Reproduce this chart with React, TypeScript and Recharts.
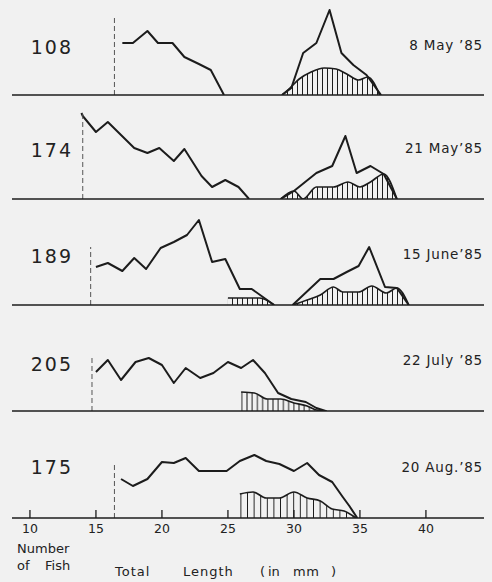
import React from 'react';
import { ComposedChart, Line, Area, XAxis, YAxis } from 'recharts';

// ---------- data (total length in mm, relative number of fish) ----------
const X_DOMAIN: [number, number] = [8.64, 44.4];
const xTicks = [10, 15, 20, 25, 30, 35, 40];

const sampleSizes = ['108', '174', '189', '205', '175'];
const sampleDates = ['8 May \u201985', '21 May\u201985', '15 June\u201985', '22 July \u201985', '20 Aug.\u201985'];
const minLengthMarks = [16.4, 14, 14.6, 14.7, 16.4];
const minLengthMarkHeights = [79, 87, 58, 56, 55];

type P = [number, number][];

// 8 May '85
const may8Main: P = [[17, 52], [17.8, 52], [18.9, 64], [19.7, 52], [20.8, 52], [21.7, 38], [22.8, 31], [23.7, 25], [24.7, 0]];
const may8Outer: P = [[29.1, 0], [29.8, 7], [30.7, 42], [31.7, 52], [32.7, 85], [33.6, 42], [34.5, 30], [35.5, 20], [36.6, 0]];
const may8Hatch: P = [[29.1, 0], [29.7, 7], [30.4, 16], [31.3, 23], [32.3, 27], [33.2, 26], [34, 21], [34.9, 15], [35.6, 18], [36.5, 0]];

// 21 May '85
const may21Main: P = [[13.9, 86], [14, 83], [15, 67], [15.9, 77], [16.9, 64], [17.9, 51], [18.9, 46], [19.8, 51], [20.9, 38], [21.7, 50], [23, 23], [23.8, 12], [24.8, 19], [25.8, 12], [26.6, 0]];
const may21Outer: P = [[29, 0], [30, 8], [31.7, 26], [32.9, 33], [33.9, 63], [34.75, 26], [35.8, 33], [36.8, 25], [37.8, 0]];
const may21Hatch: P = [[29, 0], [30, 8], [30.7, 0], [31.7, 12], [33, 12], [34.1, 17], [35, 12], [35.8, 17], [36.8, 25], [37.8, 0]];

// 15 June '85
const jun15Main: P = [[15, 38], [15.9, 42], [17, 34], [17.9, 47], [18.8, 36], [19.9, 57], [20.9, 63], [21.9, 70], [22.8, 85], [23.8, 43], [24.8, 46], [25.9, 16], [26.8, 16], [28.5, 0]];
const jun15LeftHatch: P = [[25, 7], [27.4, 7], [28.5, 0]];
const jun15Outer: P = [[29.9, 0], [32, 26], [33, 26], [34, 33], [34.9, 39], [35.7, 58], [36.9, 18], [37.8, 17], [38.7, 0]];
const jun15Hatch: P = [[29.9, 0], [31, 5], [32, 10], [33, 18], [33.7, 13], [34.9, 13], [35.9, 19], [37, 12], [37.8, 17], [38.7, 0]];

// 22 July '85
const jul22Main: P = [[15, 39], [15.9, 51], [16.9, 31], [18, 49], [19, 53], [20, 46], [20.9, 28], [21.8, 43], [22.9, 33], [23.9, 38], [25, 49], [26, 43], [26.9, 51], [27.8, 38], [28.8, 18], [29.8, 12], [30.9, 9], [31.7, 3], [32.4, 0]];
const jul22Hatch: P = [[26, 19], [27, 18], [28, 12], [29, 12], [30, 8], [31, 5], [31.7, 1], [32.5, 0]];

// 20 Aug '85
const aug20Main: P = [[16.9, 39], [17.8, 32], [18.9, 39], [20, 56], [20.9, 55], [21.8, 60], [22.8, 47], [23.9, 47], [24.9, 47], [25.9, 57], [27, 63], [27.9, 57], [28.9, 54], [30, 47], [31, 55], [31.9, 43], [32.9, 36], [33.7, 21], [34.2, 12], [34.8, 0]];
const aug20Hatch: P = [[25.9, 24], [26.9, 26], [27.9, 20], [28.9, 20], [30, 26], [31, 20], [32, 17], [32.9, 9], [33.8, 7], [34.7, 0]];

// ---------- helpers ----------
const toRows = (p: P) => p.map(([x, y]) => ({ x, y }));

const INK = '#1c1c1c';
const FONT = '"DejaVu Sans", "Liberation Sans", Arial, sans-serif';
const PLOT_H = 90;

interface PanelSpec {
  top: number;
  main: P;
  outer?: P;
  hatches: P[];
  hatchGap: number;
  axis?: boolean;
}

const panels: PanelSpec[] = [
  { top: 5, main: may8Main, outer: may8Outer, hatches: [may8Hatch], hatchGap: 5 },
  { top: 109, main: may21Main, outer: may21Outer, hatches: [may21Hatch], hatchGap: 5 },
  { top: 215, main: jun15Main, outer: jun15Outer, hatches: [jun15LeftHatch, jun15Hatch], hatchGap: 5 },
  { top: 321, main: jul22Main, hatches: [jul22Hatch], hatchGap: 5.2 },
  { top: 428, main: aug20Main, hatches: [aug20Hatch], hatchGap: 6.6, axis: true },
];

const AxisTick = (props: any) => {
  const { x, y, payload } = props;
  return (
    <g>
      <line x1={x} x2={x} y1={y - 8} y2={y} stroke={INK} strokeWidth={1.3} />
      <text x={x} y={y + 15} textAnchor="middle" fontFamily={FONT} fontSize={12.5} fill="#222">
        {payload.value}
      </text>
    </g>
  );
};

const Panel = ({ spec, i }: { spec: PanelSpec; i: number }) => {
  const axisH = spec.axis ? 24 : 3;
  const pid = `hatch${i}`;
  return (
    <div style={{ position: 'absolute', left: 0, top: spec.top }}>
      <ComposedChart
        width={492}
        height={PLOT_H + axisH}
        margin={{ top: 0, right: 8, bottom: 0, left: 12 }}
      >
        <defs>
          <pattern id={pid} width={spec.hatchGap} height={10} patternUnits="userSpaceOnUse">
            <line x1={spec.hatchGap / 2} y1={0} x2={spec.hatchGap / 2} y2={10} stroke={INK} strokeWidth={1} />
          </pattern>
        </defs>
        <XAxis
          type="number"
          dataKey="x"
          domain={X_DOMAIN}
          allowDataOverflow
          ticks={spec.axis ? xTicks : []}
          tick={spec.axis ? <AxisTick /> : false}
          tickLine={false}
          tickSize={0}
          tickMargin={0}
          height={axisH}
          axisLine={{ stroke: INK, strokeWidth: 1.6 }}
          interval={0}
        />
        <YAxis hide type="number" domain={[0, PLOT_H]} allowDataOverflow />
        {spec.hatches.map((h, k) => (
          <Area
            key={`h${k}`}
            data={toRows(h)}
            dataKey="y"
            type="monotone"
            stroke={INK}
            strokeWidth={1.7}
            fill={`url(#${pid})`}
            fillOpacity={1}
            isAnimationActive={false}
            dot={false}
            activeDot={false}
          />
        ))}
        {spec.outer && (
          <Line
            data={toRows(spec.outer)}
            dataKey="y"
            type="linear"
            stroke={INK}
            strokeWidth={2}
            strokeLinejoin="round"
            dot={false}
            activeDot={false}
            isAnimationActive={false}
          />
        )}
        <Line
          data={toRows(spec.main)}
          dataKey="y"
          type="linear"
          stroke={INK}
          strokeWidth={2}
          strokeLinejoin="round"
          dot={false}
          activeDot={false}
          isAnimationActive={false}
        />
        <Line
          data={[
            { x: minLengthMarks[i], y: 0 },
            { x: minLengthMarks[i], y: minLengthMarkHeights[i] },
          ]}
          dataKey="y"
          type="linear"
          stroke="#555"
          strokeWidth={1}
          strokeDasharray="5 3"
          dot={false}
          activeDot={false}
          isAnimationActive={false}
        />
      </ComposedChart>
    </div>
  );
};

const countBaselines = [53.5, 156.5, 262.5, 370.5, 474];
const dateBaselines = [49.5, 152.5, 258.5, 365, 471.5];

export default function App() {
  return (
    <div
      style={{
        position: 'absolute',
        left: 0,
        top: 0,
        width: 492,
        height: 582,
        background: '#f1f1f1',
        overflow: 'hidden',
      }}
    >
      {panels.map((p, i) => (
        <Panel key={i} spec={p} i={i} />
      ))}
      <svg
        width={492}
        height={582}
        style={{ position: 'absolute', left: 0, top: 0, pointerEvents: 'none' }}
      >
        {sampleSizes.map((s, i) => (
          <text
            key={`n${i}`}
            x={73}
            y={countBaselines[i]}
            textAnchor="end"
            fontFamily={FONT}
            fontSize={19}
            letterSpacing={2}
            fill="#222"
          >
            {s}
          </text>
        ))}
        {sampleDates.map((d, i) => (
          <text
            key={`d${i}`}
            x={483}
            y={dateBaselines[i]}
            textAnchor="end"
            fontFamily={FONT}
            fontSize={13.5}
            letterSpacing={0.8}
            fill="#222"
          >
            {d}
          </text>
        ))}
        <g fontFamily={FONT} fontSize={13} fill="#222">
          <text x={17} y={552.7}>Number</text>
          <text x={17} y={570}>of</text>
          <text x={45} y={570}>Fish</text>
          <text x={115} y={576} letterSpacing={1}>Total</text>
          <text x={183} y={576} letterSpacing={1}>Length</text>
          <text x={260} y={576}>(</text>
          <text x={268} y={576}>in</text>
          <text x={293} y={576} letterSpacing={0.5}>mm</text>
          <text x={331} y={576}>)</text>
        </g>
      </svg>
    </div>
  );
}
